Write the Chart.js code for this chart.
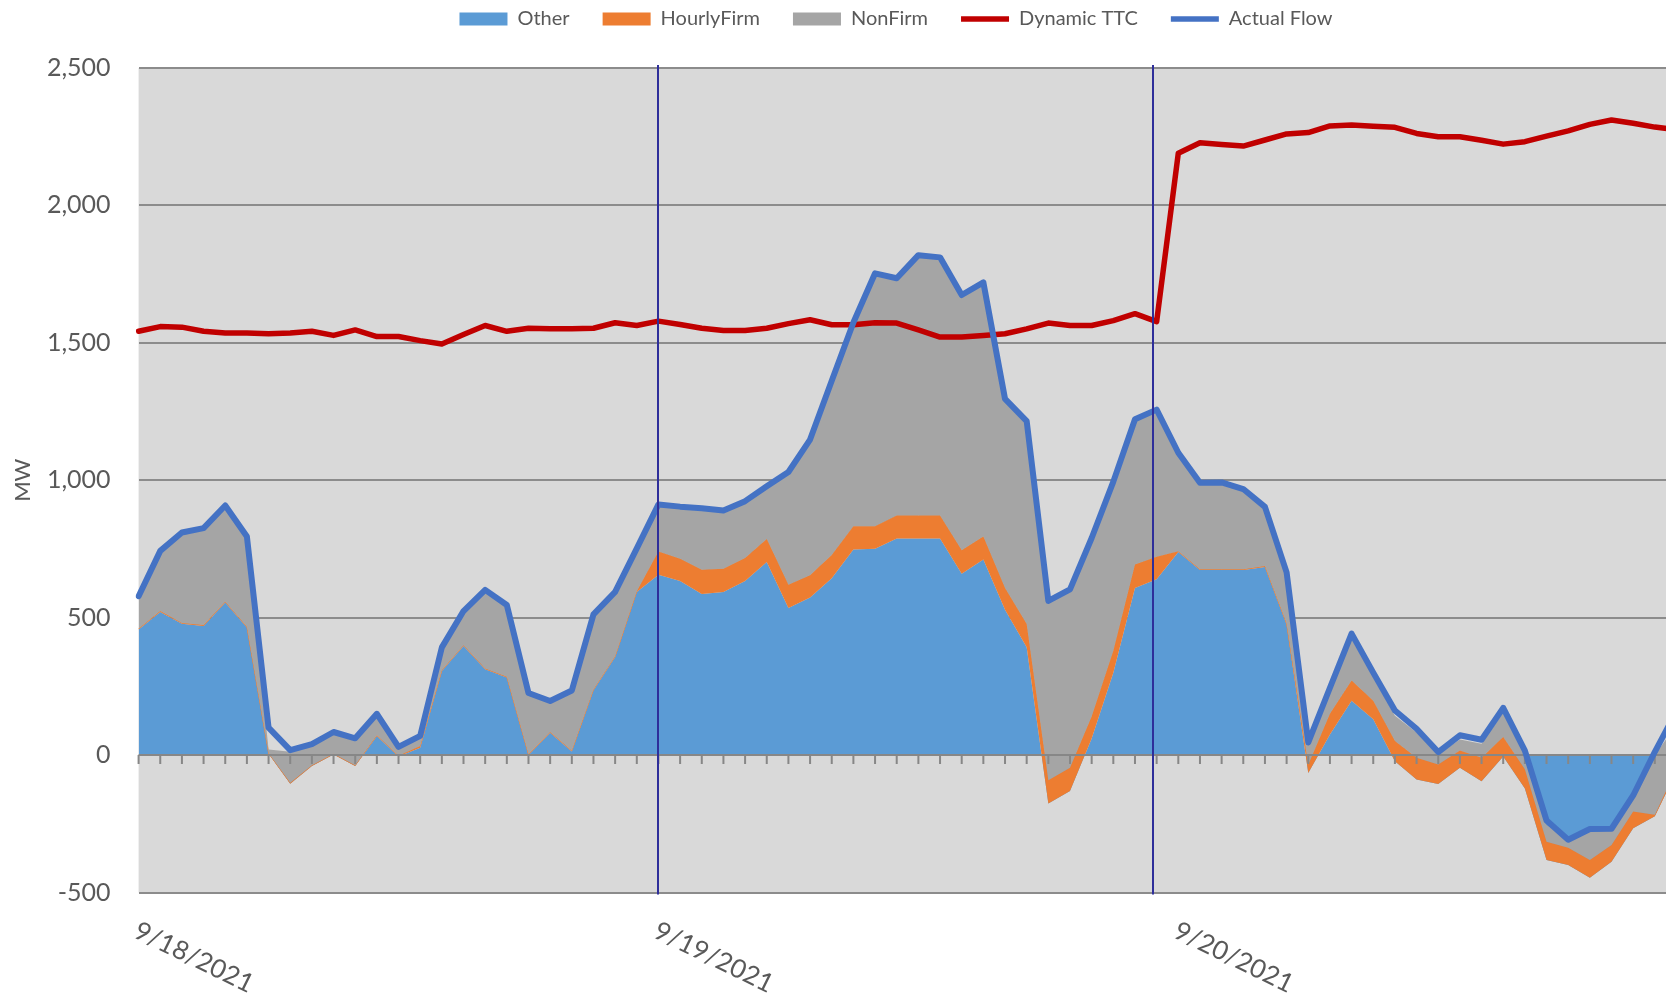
<!DOCTYPE html>
<html><head><meta charset="utf-8">
<script src="https://cdn.jsdelivr.net/npm/chart.js@4.4.1/dist/chart.umd.min.js"></script>
<style>
html,body{margin:0;padding:0;background:#fff;overflow:hidden;width:1666px;height:993px;}
#wrap{position:relative;width:1792px;height:993px;}
</style></head><body>
<div id="wrap"><canvas id="c"></canvas></div>
<script>
// ---- data ----
const days = ['9/18/2021', '9/19/2021', '9/20/2021'];
const dateTickIndex = [0, 24, 48];
const markerLines = [24, 46.85];
const categories = [];
for (let i = 0; i < 72; i++) categories.push(days[Math.floor(i / 24)] + ' ' + (i % 24) + ':00');

const other = [457,521,478,470,555,464,5,-104,-40,2, -40,69,-5,27,306,397,312,282,0,81,
  13,236,357,593,656,633,586,593,633,703, 535,573,643,748,751,788,788,788,660,712,
  529,392,-176,-131,60,300,608,640,739,673, 673,673,684,475,-65,75,198,130,-22,-89,
  -105,-46,-95,-5,-122,-382,-400,-446,-388,-266, -223,-60];
const hourlyFirm = [3,3,3,3,3,3,3,3,3,3, 3,3,3,6,3,3,3,3,3,3,
  3,3,3,3,85,81,88,85,84,83, 85,81,85,85,82,84,84,84,85,83,
  79,85,84,85,80,80,85,82,3,3, 3,3,4,4,30,75,73,68,73,79,
  71,63,85,71,70,67,63,64,61,61, 6,10];
const nonFirm = [113,219,329,352,349,327,12,113,72,77, 95,78,27,34,79,120,283,258,222,111,
  217,271,230,152,164,186,218,207,201,186, 405,486,627,737,912,858,943,933,925,920,
  682,733,647,646,645,610,522,528,358,314, 314,289,217,188,75,90,152,85,92,92,
  37,40,51,89,74,61,35,104,52,49, 217,160];
const dynamicTTC = [1542,1559,1557,1542,1536,1536,1533,1536,1542,1527, 1547,1523,1523,1508,1496,1530,1563,1542,1553,1551,
  1551,1553,1573,1563,1579,1567,1553,1545,1545,1553, 1570,1584,1566,1566,1573,1572,1547,1521,1521,1527,
  1533,1551,1572,1563,1563,1581,1606,1577,2190,2228, 2222,2216,2238,2260,2265,2289,2293,2288,2284,2262,
  2250,2250,2237,2223,2232,2252,2271,2295,2311,2299, 2285,2275];
const actualFlow = [578,743,810,826,908,795,100,18,40,84, 61,150,30,70,392,524,601,546,226,197,
  235,512,594,752,912,904,898,890,924,978, 1030,1148,1362,1574,1753,1735,1819,1811,1674,1720,
  1296,1215,561,603,790,995,1222,1257,1100,991, 992,968,903,665,46,245,442,300,162,96,
  11,72,56,172,16,-238,-308,-269,-268,-147, 12,160];

// stacked boundaries (Excel-style cumulative stacking, later series drawn on top)
const cumOther = other.slice();
const cumHourly = other.map((v, i) => v + hourlyFirm[i]);
const cumNonFirm = cumHourly.map((v, i) => v + nonFirm[i]);

const TXT = '#595959';
Chart.defaults.font.family = 'Lato';

const plotBg = {
  id: 'plotBg',
  beforeDraw(chart) {
    const {ctx, chartArea: a} = chart;
    ctx.save();
    ctx.fillStyle = '#d9d9d9';
    ctx.fillRect(a.left, a.top, a.right - a.left, a.bottom - a.top);
    ctx.restore();
  }
};
const zeroAxis = {
  id: 'zeroAxis',
  beforeDatasetDraw(chart, args) {
    if (args.index !== 3) return;
    const {ctx, chartArea: a, scales: {x, y}} = chart;
    const y0 = y.getPixelForValue(0);
    ctx.save();
    ctx.strokeStyle = '#878787';
    ctx.lineWidth = 2;
    ctx.beginPath();
    ctx.moveTo(a.left, y0); ctx.lineTo(a.right, y0);
    for (let i = 0; i < categories.length; i++) {
      const px = x.getPixelForValue(i);
      ctx.moveTo(px, y0); ctx.lineTo(px, y0 + 9);
    }
    ctx.stroke();
    ctx.restore();
  }
};
const markers = {
  id: 'markers',
  afterDatasetsDraw(chart) {
    const {ctx, chartArea: a, scales: {x}} = chart;
    ctx.save();
    ctx.strokeStyle = '#2e2e9a';
    ctx.lineWidth = 2;
    markerLines.forEach(v => {
      const px = Math.round(x.getPixelForValue(v));
      ctx.beginPath(); ctx.moveTo(px, a.top - 3); ctx.lineTo(px, a.bottom + 2); ctx.stroke();
    });
    ctx.restore();
  }
};
const dateLabels = {
  id: 'dateLabels',
  afterDraw(chart) {
    const {ctx, chartArea: a, scales: {x}} = chart;
    ctx.save();
    ctx.font = '26px Lato';
    ctx.fillStyle = TXT;
    ctx.textAlign = 'left';
    ctx.textBaseline = 'top';
    dateTickIndex.forEach((idx, k) => {
      const px = x.getPixelForValue(idx);
      ctx.save();
      ctx.translate(px + 3, a.bottom + 25);
      ctx.rotate(26 * Math.PI / 180);
      ctx.fillText(days[k], 0, 0);
      ctx.restore();
    });
    ctx.restore();
  }
};

const areaBase = {pointRadius: 0, pointHoverRadius: 0, tension: 0, borderWidth: 0, borderColor: 'rgba(0,0,0,0)'};
new Chart(document.getElementById('c'), {
  type: 'line',
  data: {
    labels: categories,
    datasets: [
      Object.assign({}, areaBase, {label: 'Other', data: cumOther, backgroundColor: '#5b9bd5', fill: 'origin', order: 12}),
      Object.assign({}, areaBase, {label: 'HourlyFirm', data: cumHourly, backgroundColor: '#ed7d31', borderColor: '#ed7d31', borderWidth: 1, fill: '-1', order: 11}),
      Object.assign({}, areaBase, {label: 'NonFirm', data: cumNonFirm, backgroundColor: '#a5a5a5', fill: '-1', order: 10}),
      {label: 'Dynamic TTC', data: dynamicTTC, borderColor: '#c00000', backgroundColor: '#c00000', borderWidth: 5.5, pointRadius: 0, tension: 0, fill: false, order: 1, borderJoinStyle: 'round', borderCapStyle: 'round'},
      {label: 'Actual Flow', data: actualFlow, borderColor: '#4472c4', backgroundColor: '#4472c4', borderWidth: 6, pointRadius: 0, tension: 0, fill: false, order: 0, borderJoinStyle: 'round', borderCapStyle: 'round'}
    ]
  },
  options: {
    responsive: true,
    maintainAspectRatio: false,
    animation: false,
    events: [],
    layout: {padding: {top: -24, left: 0, right: 0, bottom: 100.5}},
    scales: {
      x: {type: 'category', display: false, offset: false},
      y: {
        position: 'left', min: -500, max: 2500,
        ticks: {stepSize: 500, color: TXT, font: {size: 25}, padding: 28,
          callback: v => v.toLocaleString('en-US')},
        grid: {color: '#8c8c8c', lineWidth: 2, drawTicks: false},
        border: {display: false},
        title: {display: true, text: 'MW', color: TXT, font: {size: 22}, padding: {top: 10, bottom: 0}},
        afterFit(s) { s.width = 138.6; }
      },
      yR: {
        position: 'right', display: true,
        grid: {display: false}, border: {display: false}, ticks: {display: false},
        afterFit(s) { s.width = 115.5; }
      }
    },
    plugins: {
      tooltip: {enabled: false},
      title: {display: true, text: '', weight: 500, padding: {top: 0, bottom: 17}, font: {size: 10}},
      legend: {
        position: 'top', align: 'center',
        labels: {
          usePointStyle: true, pointStyleWidth: 48, boxHeight: 13, padding: 33,
          color: TXT, font: {size: 20},
          generateLabels(chart) {
            return chart.data.datasets.map((ds, i) => {
              const isLine = i >= 3;
              return {
                text: ds.label,
                fillStyle: isLine ? ds.borderColor : ds.backgroundColor,
                strokeStyle: isLine ? ds.borderColor : ds.backgroundColor,
                lineWidth: isLine ? 5.5 : 0,
                pointStyle: isLine ? 'line' : 'rect',
                hidden: !chart.isDatasetVisible(i),
                datasetIndex: i,
                fontColor: TXT
              };
            });
          }
        }
      }
    }
  },
  plugins: [plotBg, zeroAxis, markers, dateLabels]
});
</script>
</body></html>
